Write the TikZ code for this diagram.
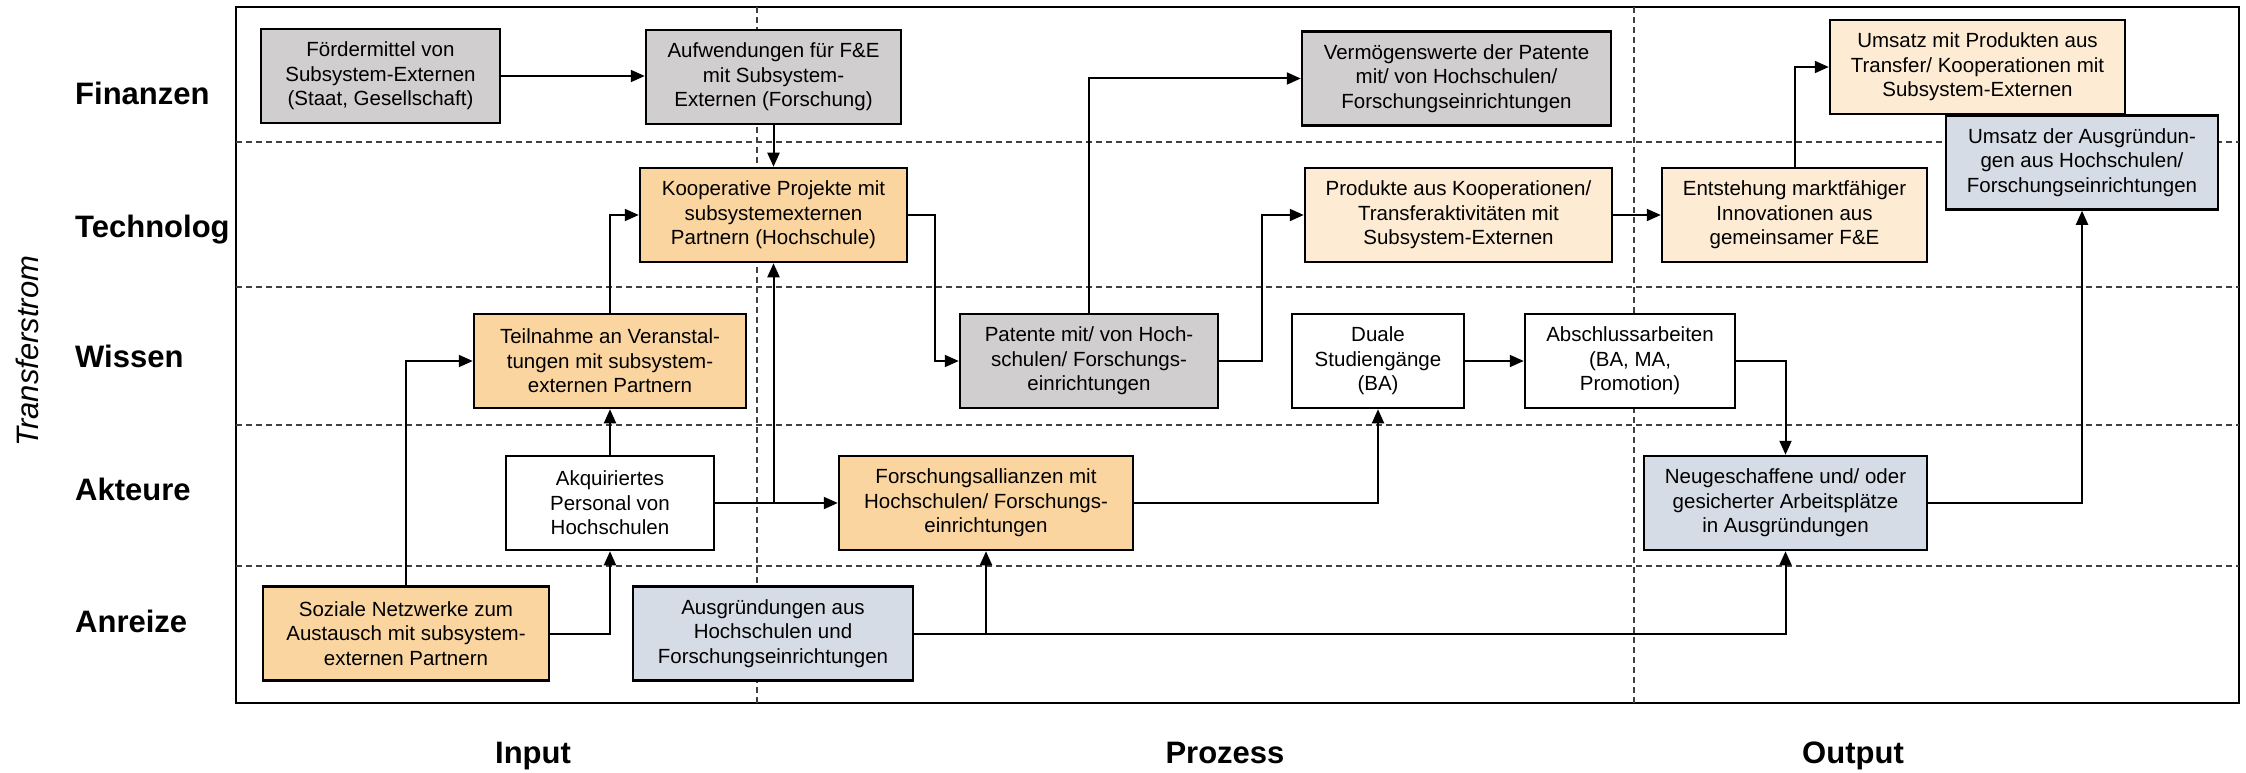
\documentclass[tikz,border=0pt]{standalone}
\usepackage{fontspec}
\setmainfont{Liberation Sans}
\usetikzlibrary{arrows.meta}
\definecolor{cOr}{HTML}{FBD5A0}
\definecolor{cLo}{HTML}{FDEBD3}
\definecolor{cGr}{HTML}{D0CECE}
\definecolor{cBl}{HTML}{D6DCE5}
\tikzset{
  box/.style={draw=black, line width=2.5pt, inner sep=0pt, align=center, minimum height=94pt, font=\fontsize{20.5}{24.5}\selectfont},
  conn/.style={line width=2pt, -{Triangle[length=14pt,width=12pt]}},
  plainline/.style={line width=2pt},
  gridline/.style={line width=1.5pt, dash pattern=on 6pt off 4pt, black!75},
  rowlab/.style={anchor=base west, inner sep=0pt, font=\fontsize{31}{36}\selectfont\bfseries},
  collab/.style={anchor=base, inner sep=0pt, font=\fontsize{31}{36}\selectfont\bfseries},
}
\begin{document}
\begin{tikzpicture}[x=1pt,y=-1pt]
\useasboundingbox (0,0) rectangle (2246,773);
% frame and grid
\draw[line width=2.5pt] (236,7) rectangle (2239,703);
\foreach \yy in {142,287,425,566} { \draw[gridline] (236,\yy) -- (2239,\yy); }
\foreach \xx in {757,1634} { \draw[gridline] (\xx,7) -- (\xx,706); }
% labels
\node[rowlab] (lfin) at (75,105) {Finanzen};
\node[rowlab] (ltec) at (75,237) {Technolog};
\node[rowlab] (lwis) at (75,367) {Wissen};
\node[rowlab] (lakt) at (75,500) {Akteure};
\node[rowlab] (lanr) at (75,632) {Anreize};
\node[collab] (cin) at (533,763) {Input};
\node[collab] (cpro) at (1225,763) {Prozess};
\node[collab] (cout) at (1853,763) {Output};
\node[inner sep=0pt, rotate=90, font=\fontsize{31}{36}\selectfont\itshape] (tstrom) at (27,351) {Transferstrom};
% boxes
\node[box, fill=cGr, minimum width=239pt] (foerder) at (380.5,76) {Fördermittel von\\Subsystem-Externen\\(Staat, Gesellschaft)};
\node[box, fill=cGr, minimum width=255pt] (aufw) at (773.5,77) {Aufwendungen für F\&E\\mit Subsystem-\\Externen (Forschung)};
\node[box, fill=cOr, minimum width=267pt] (koop) at (773.5,215) {Kooperative Projekte mit\\subsystemexternen\\Partnern (Hochschule)};
\node[box, fill=cOr, minimum width=272pt] (teil) at (610,361) {Teilnahme an Veranstal-\\tungen mit subsystem-\\externen Partnern};
\node[box, fill=white, minimum width=208pt] (akq) at (610,503) {Akquiriertes\\Personal von\\Hochschulen};
\node[box, fill=cOr, minimum width=286pt] (soz) at (406,633.5) {Soziale Netzwerke zum\\Austausch mit subsystem-\\externen Partnern};
\node[box, fill=cBl, minimum width=280pt] (ausg) at (773,633.5) {Ausgründungen aus\\Hochschulen und\\Forschungseinrichtungen};
\node[box, fill=cOr, minimum width=294pt] (fall) at (986,503) {Forschungsallianzen mit\\Hochschulen/ Forschungs-\\einrichtungen};
\node[box, fill=cGr, minimum width=258pt] (pat) at (1089,361) {Patente mit/ von Hoch-\\schulen/ Forschungs-\\einrichtungen};
\node[box, fill=cGr, minimum width=309pt] (verm) at (1456.5,78.5) {Vermögenswerte der Patente\\mit/ von Hochschulen/\\Forschungseinrichtungen};
\node[box, fill=cLo, minimum width=307pt] (prod) at (1458.5,215) {Produkte aus Kooperationen/\\Transferaktivitäten mit\\Subsystem-Externen};
\node[box, fill=white, minimum width=172pt] (duale) at (1378,361) {Duale\\Studiengänge\\(BA)};
\node[box, fill=white, minimum width=210pt] (absch) at (1630,361) {Abschlussarbeiten\\(BA, MA,\\Promotion)};
\node[box, fill=cLo, minimum width=265pt] (entst) at (1794.5,215) {Entstehung marktfähiger\\Innovationen aus\\gemeinsamer F\&E};
\node[box, fill=cLo, minimum width=295pt] (umsp) at (1977.5,67) {Umsatz mit Produkten aus\\Transfer/ Kooperationen mit\\Subsystem-Externen};
\node[box, fill=cBl, minimum width=272pt] (umsa) at (2082,162.5) {Umsatz der Ausgründun-\\gen aus Hochschulen/\\Forschungseinrichtungen};
\node[box, fill=cBl, minimum width=283pt] (neu) at (1785.5,503) {Neugeschaffene und/ oder\\gesicherter Arbeitsplätze\\in Ausgründungen};
% connectors
\draw[conn] (foerder.east) -- (foerder.east -| aufw.west);
\draw[conn] (aufw.south) -- (koop.north);
\draw[conn] (teil.north) |- (koop.west);
\draw[conn] (soz.north) |- (teil.west);
\draw[conn] (akq.north) -- (teil.south);
\draw[conn] (soz.east) -| (akq.south);
\draw[conn] (akq.east) -- (akq.east -| fall.west);
\draw[conn] (koop.south |- akq.east) -- (koop.south);
\draw[conn] (koop.east) -- ++(27,0) |- (pat.west);
\draw[conn] (pat.north) |- (verm.west);
\draw[conn] (pat.east) -- ++(43,0) |- (prod.west);
\draw[conn] (fall.east) -| (duale.south);
\draw[conn] (duale.east) -- (absch.west);
\draw[conn] (absch.east) -| (neu.north);
\draw[conn] (ausg.east) -| (neu.south);
\draw[conn] (fall.south |- ausg.east) -- (fall.south);
\draw[conn] (prod.east) -- (entst.west);
\draw[conn] (entst.north) |- (umsp.west);
\draw[conn] (neu.east) -| (umsa.south);
\end{tikzpicture}
\end{document}
